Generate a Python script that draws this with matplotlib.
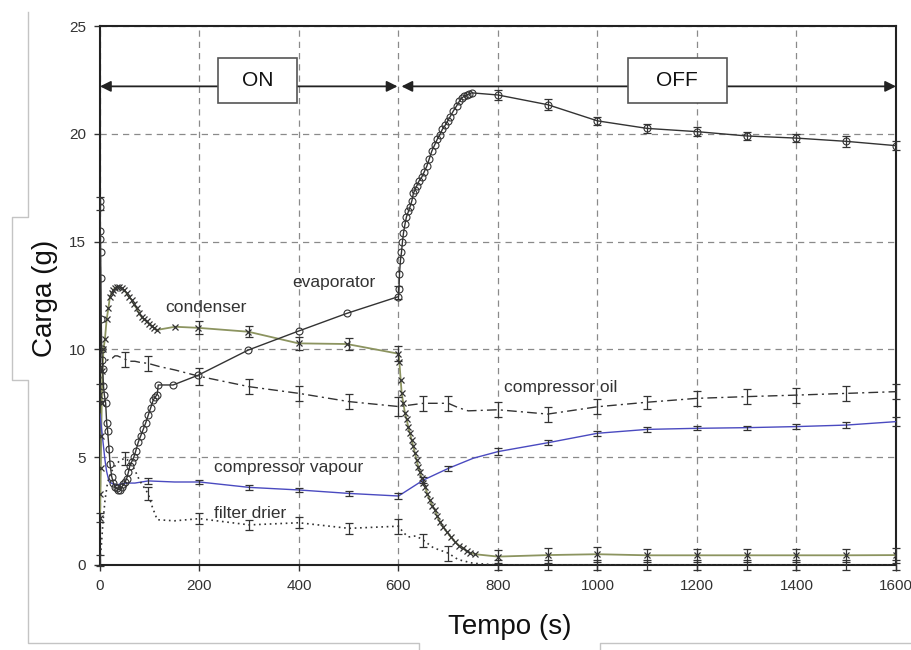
import numpy as np
import matplotlib
matplotlib.use("Agg")
import matplotlib.pyplot as plt
from matplotlib import font_manager
from matplotlib.lines import Line2D
from matplotlib.patches import Rectangle

# --- data ---------------------------------------------------------------
evap_t = [0, 0.3, 0.6, 0.9, 1.2, 1.8, 2.5, 3.4, 4.5, 5.4, 7, 8.7, 11.4, 13.4, 15.4,
          18.1, 20.1, 23.5, 27, 30.2, 33.5, 36.9, 40, 43.5, 47, 50, 53.6, 57, 60,
          64, 68, 72, 77, 82, 87, 92, 97, 102, 107, 111, 115, 117, 147, 197, 298,
          399, 496, 600, 601, 602, 604, 606, 608, 610, 613, 616, 620, 623, 627,
          630, 633, 637, 641, 647, 652, 657, 662, 667, 673, 678, 683, 688, 694,
          699, 704, 710, 717, 722, 727, 732, 737, 742, 747, 800, 900, 1000,
          1100, 1200, 1300, 1400, 1500, 1600]
evap_v = [16.9, 16.6, 15.5, 15.1, 14.5, 13.3, 11.4, 10.0, 9.5, 9.1, 8.3, 7.9, 7.5,
          6.6, 6.2, 5.4, 4.7, 4.1, 3.8, 3.6, 3.55, 3.5, 3.5, 3.6, 3.75, 3.85, 4.0,
          4.3, 4.6, 4.8, 5.0, 5.3, 5.7, 6.0, 6.3, 6.6, 6.95, 7.3, 7.65, 7.8, 7.9,
          8.35, 8.35, 8.8, 9.97, 10.85, 11.67, 12.45, 12.8, 13.5, 14.15, 14.5,
          15.0, 15.4, 15.8, 16.15, 16.4, 16.6, 16.9, 17.25, 17.4, 17.6, 17.8, 18.0,
          18.25, 18.5, 18.85, 19.2, 19.5, 19.75, 19.95, 20.2, 20.4, 20.6, 20.8,
          21.05, 21.3, 21.5, 21.65, 21.75, 21.8, 21.85, 21.9, 21.8, 21.35, 20.6,
          20.25, 20.1, 19.9, 19.8, 19.65, 19.45]
evap_err_t = [0, 600, 800, 900, 1000, 1100, 1200, 1300, 1400, 1500, 1600]
evap_err_v = [16.75, 12.65, 21.8, 21.35, 20.6, 20.25, 20.1, 19.9, 19.8, 19.65, 19.45]
evap_err_e = [0.3, 0.3, 0.25, 0.25, 0.2, 0.2, 0.2, 0.2, 0.2, 0.25, 0.2]

cond_t = [0, 0.8, 1.5, 2.5, 3.5, 5, 7, 10, 13.4, 16.8, 20, 23.5, 26.8, 30, 33.5,
          38, 43.5, 48, 53.6, 58, 63.6, 68, 73.7, 78, 83.7, 88, 93.8, 98, 103.9,
          108, 113.9, 150.8, 197.6, 298, 399, 496, 600, 601.7, 604.4, 606.4,
          609.7, 613, 616.4, 619.7, 623, 626.4, 629.8, 633.1, 636.5, 639.8, 643.2,
          646.6, 650, 653.3, 658, 663.3, 668, 673.4, 678, 683.4, 690, 696.8, 705,
          713.6, 722, 730.3, 737, 743.7, 753.8, 800, 900, 1000, 1100, 1200, 1300,
          1400, 1500, 1600]
cond_v = [2.2, 3.3, 4.5, 6.0, 7.5, 9.0, 10.0, 10.5, 11.4, 11.9, 12.45, 12.6, 12.75,
          12.85, 12.9, 12.9, 12.85, 12.75, 12.6, 12.45, 12.3, 12.1, 11.9, 11.7,
          11.5, 11.4, 11.3, 11.2, 11.1, 11.0, 10.9, 11.05, 11.0, 10.82, 10.28,
          10.25, 9.8, 9.43, 8.58, 7.96, 7.5, 7.05, 6.75, 6.4, 6.1, 5.8, 5.5, 5.18,
          4.85, 4.56, 4.3, 4.02, 3.8, 3.63, 3.3, 3.0, 2.75, 2.55, 2.25, 2.0, 1.75,
          1.55, 1.3, 1.08, 0.9, 0.77, 0.65, 0.57, 0.5, 0.39, 0.46, 0.5, 0.45, 0.45,
          0.45, 0.45, 0.45, 0.46]
cond_err_t = [0, 200, 300, 400, 500, 600, 800, 900, 1000, 1100, 1200, 1300, 1400, 1500, 1600]
cond_err_v = [2.2, 11.0, 10.82, 10.28, 10.25, 9.8, 0.39, 0.46, 0.5, 0.45, 0.45, 0.45, 0.45, 0.45, 0.46]
cond_err_e = [0.2, 0.3, 0.25, 0.3, 0.3, 0.35, 0.3, 0.35, 0.35, 0.3, 0.3, 0.3, 0.3, 0.3, 0.35]

oil_t = [0, 2, 4, 6, 10, 15, 20, 25, 30, 35, 40, 50, 60, 70, 80, 97, 120, 150, 200,
         300, 400, 500, 600, 650, 700, 720, 740, 800, 900, 1000, 1100, 1200, 1300,
         1400, 1500, 1600]
oil_v = [8.0, 8.8, 9.2, 9.3, 9.45, 9.5, 9.6, 9.6, 9.7, 9.7, 9.65, 9.55, 9.45, 9.45,
         9.4, 9.35, 9.2, 9.05, 8.75, 8.27, 7.96, 7.58, 7.35, 7.5, 7.5, 7.3, 7.15,
         7.2, 7.0, 7.34, 7.55, 7.73, 7.81, 7.88, 7.96, 8.04]
oil_err_t = [0, 50, 97, 200, 300, 400, 500, 600, 650, 700, 800, 900, 1000, 1100,
             1200, 1300, 1400, 1500, 1600]
oil_err_v = [8.0, 9.55, 9.35, 8.75, 8.27, 7.96, 7.58, 7.35, 7.5, 7.5, 7.2, 7.0, 7.34,
             7.55, 7.73, 7.81, 7.88, 7.96, 8.04]
oil_err_e = [0.4, 0.35, 0.35, 0.4, 0.35, 0.35, 0.35, 0.45, 0.35, 0.35, 0.35, 0.35,
             0.35, 0.3, 0.35, 0.35, 0.35, 0.35, 0.35]

vap_t = [0, 3.4, 6.7, 10, 13.4, 18.4, 26.8, 35, 45, 55, 70, 97, 150, 200, 300, 400,
         500, 600, 650, 700, 750, 800, 900, 1000, 1100, 1200, 1300, 1400, 1500, 1600]
vap_v = [7.0, 6.26, 5.57, 4.87, 4.33, 3.86, 3.75, 3.72, 3.78, 3.8, 3.8, 3.9, 3.85,
         3.85, 3.6, 3.48, 3.32, 3.2, 3.94, 4.48, 4.95, 5.26, 5.67, 6.11, 6.29, 6.34,
         6.37, 6.42, 6.49, 6.65]
vap_err_t = [97, 200, 300, 400, 500, 600, 650, 700, 800, 900, 1000, 1100, 1200,
             1300, 1400, 1500, 1600]
vap_err_v = [3.9, 3.85, 3.6, 3.48, 3.32, 3.2, 3.94, 4.48, 5.26, 5.67, 6.11, 6.29,
             6.34, 6.37, 6.42, 6.49, 6.65]
vap_err_e = [0.15, 0.1, 0.1, 0.1, 0.1, 0.12, 0.12, 0.12, 0.15, 0.12, 0.12, 0.12,
             0.1, 0.1, 0.1, 0.12, 0.2]

filt_t = [0, 3, 6, 10, 15, 22, 30, 40, 50, 60, 70, 80, 97, 105, 115, 150, 200, 300,
          400, 500, 600, 610, 620, 635, 650, 670, 700, 720, 750, 800, 900, 1000,
          1100, 1200, 1300, 1400, 1500, 1600]
filt_v = [0.2, 1.0, 2.0, 3.0, 3.8, 4.3, 4.6, 4.85, 4.95, 4.8, 4.4, 3.9, 3.3, 2.7,
          2.1, 2.05, 2.15, 1.86, 1.96, 1.7, 1.8, 1.5, 1.3, 1.35, 1.15, 0.8, 0.55,
          0.25, 0.08, 0.0, 0.0, 0.0, 0.0, 0.0, 0.0, 0.0, 0.0, 0.0]
filt_err_t = [0, 50, 97, 200, 300, 400, 500, 600, 650, 700, 800, 900, 1000, 1100,
              1200, 1300, 1400, 1500, 1600]
filt_err_v = [0.2, 4.95, 3.3, 2.15, 1.86, 1.96, 1.7, 1.8, 1.15, 0.55, 0, 0, 0, 0, 0,
              0, 0, 0, 0]
filt_err_e = [0.25, 0.3, 0.3, 0.25, 0.25, 0.25, 0.25, 0.35, 0.3, 0.35, 0.25, 0.25,
              0.25, 0.25, 0.25, 0.25, 0.25, 0.25, 0.25]

x_ticks = [0, 200, 400, 600, 800, 1000, 1200, 1400, 1600]
y_ticks = [0, 5, 10, 15, 20, 25]

# --- fonts ----------------------------------------------------------------
names = {f.name for f in font_manager.fontManager.ttflist}
narrow = "Liberation Sans Narrow" if "Liberation Sans Narrow" in names else "Liberation Sans"
plt.rcParams["font.family"] = ["Liberation Sans", "DejaVu Sans"]

W, H = 912, 650
fig = plt.figure(figsize=(W / 100, H / 100), dpi=100)
ax = fig.add_axes([100 / W, 1 - 565 / H, 796 / W, 539 / H])

dark = "#333333"

# series
ax.plot(evap_t, evap_v, "-", color=dark, lw=1.0, marker="o", ms=5,
        mfc="none", mec=dark, mew=0.8, zorder=5)
ax.plot(cond_t, cond_v, "-", color="#8c9460", lw=1.3, zorder=4)
ax.plot(cond_t, cond_v, "none", marker="x", ms=5, mec=dark, mew=0.9, zorder=5)
ax.plot(oil_t, oil_v, color=dark, lw=1.0, dashes=(7, 3, 1.5, 3), zorder=4)
ax.plot(vap_t, vap_v, "-", color="#4a4ac0", lw=1.0, zorder=4)
ax.plot(filt_t, filt_v, color=dark, lw=1.2, dashes=(1, 2.2), zorder=4)

ekw = dict(fmt="none", ecolor=dark, elinewidth=0.9, capsize=3, capthick=0.9,
           zorder=6, clip_on=False)
ax.errorbar(evap_err_t, evap_err_v, yerr=evap_err_e, **ekw)
ax.errorbar(cond_err_t, cond_err_v, yerr=cond_err_e, **ekw)
ax.errorbar(oil_err_t, oil_err_v, yerr=oil_err_e, **ekw)
ax.errorbar(vap_err_t, vap_err_v, yerr=vap_err_e, **ekw)
ax.errorbar(filt_err_t, filt_err_v, yerr=filt_err_e, **ekw)

# series labels
lab = dict(fontsize=12.5, color=dark, va="center")
ax.text(131, 11.95, "condenser", **lab)
ax.text(386, 13.1, "evaporator", **lab)
ax.text(812, 8.25, "compressor oil", **lab)
ax.text(229, 4.5, "compressor vapour", **lab)
ax.text(229, 2.4, "filter drier", **lab)

# ON / OFF arrows and boxes
arr = dict(arrowstyle="<|-|>", color="#222222", lw=1.3, mutation_scale=16,
           shrinkA=0, shrinkB=0)
ax.annotate("", xy=(0, 22.2), xytext=(598, 22.2), arrowprops=arr, zorder=7)
ax.annotate("", xy=(606, 22.2), xytext=(1600, 22.2), arrowprops=arr, zorder=7)
for x0, x1, s in [(237, 396, "ON"), (1061, 1260, "OFF")]:
    ax.add_patch(Rectangle((x0, 21.43), x1 - x0, 2.09, facecolor="white",
                           edgecolor="#555555", lw=1.2, zorder=8))
    ax.text((x0 + x1) / 2, 22.47, s, ha="center", va="center", fontsize=15,
            family=narrow, color="#111111", zorder=9)

# axes styling
ax.set_xlim(0, 1600)
ax.set_ylim(0, 25)
ax.set_xticks(x_ticks)
ax.set_yticks(y_ticks)
ax.grid(True, color="#8a8a8a", lw=0.9, dashes=(5, 4))
ax.set_axisbelow(True)
for sp in ax.spines.values():
    sp.set_color("#222222")
    sp.set_linewidth(1.5)
ax.tick_params(direction="out", length=4, width=1, color="#333333",
               labelsize=11, labelcolor="#333333", pad=6)
for lbl in ax.get_xticklabels() + ax.get_yticklabels():
    lbl.set_family(narrow)

# axis titles placed like the slide boxes
fig.text(45 / W, 1 - 298 / H, "Carga (g)", rotation=90, ha="center", va="center",
         fontsize=20, color="#111111")
fig.text(510 / W, 1 - 627 / H, "Tempo (s)", ha="center", va="center",
         fontsize=20, color="#111111")

# light grey frame around the plot (slide outline)
frame_a = [(419, 650), (419, 643), (28, 643), (28, 380), (12, 380), (12, 217),
           (28, 217), (28, 12)]
frame_b = [(600, 650), (600, 643), (912, 643)]
for pts in (frame_a, frame_b):
    xs = [p[0] / W for p in pts]
    ys = [1 - p[1] / H for p in pts]
    fig.add_artist(Line2D(xs, ys, color="#c4c4c4", lw=1.0))

fig.savefig("out.png", dpi=100)
